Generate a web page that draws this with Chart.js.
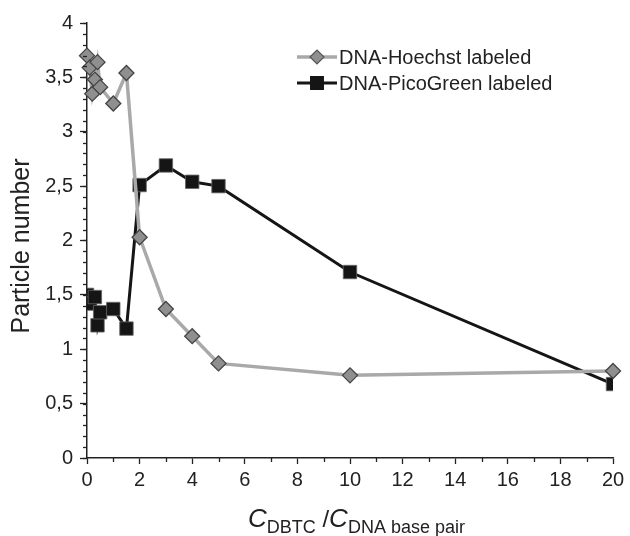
<!DOCTYPE html>
<html>
<head>
<meta charset="utf-8">
<script src="https://cdn.jsdelivr.net/npm/chart.js@4.4.1/dist/chart.umd.min.js"></script>
<style>
  html, body { margin: 0; padding: 0; background: #fff; }
  #wrap { width: 630px; height: 536px; position: relative; }
</style>
</head>
<body>
<div id="wrap"><canvas id="particleChart"></canvas></div>
<script>
// ratio DBTC / DNA base pair
var hoechstX = [0, 0.1, 0.2, 0.3, 0.4, 0.5, 1, 1.5, 2, 3, 4, 5, 10, 20];
var hoechstY = [3.70, 3.59, 3.35, 3.48, 3.64, 3.41, 3.26, 3.54, 2.03, 1.37, 1.12, 0.87, 0.76, 0.80];
var picoX = [0, 0.1, 0.3, 0.4, 0.5, 1, 1.5, 2, 3, 4, 5, 10, 20];
var picoY = [1.50, 1.42, 1.48, 1.22, 1.34, 1.37, 1.19, 2.51, 2.69, 2.54, 2.50, 1.71, 0.68];
var seriesNames = ["DNA-Hoechst labeled", "DNA-PicoGreen labeled"];
var xTicks = [0, 2, 4, 6, 8, 10, 12, 14, 16, 18, 20];
var yTicks = [0, 0.5, 1, 1.5, 2, 2.5, 3, 3.5, 4];
var yTitle = "Particle number";

var FONT = "'Liberation Sans', Arial, sans-serif";
var grayLine = "#a9a9a9", grayFill = "#8f8f8f", dark = "#151515";

function pts(xs, ys) {
  return xs.map(function (x, i) { return {x: x, y: ys[i]}; });
}

// minor ticks, legend with line samples, axis titles
var extras = {
  id: "extras",
  afterDraw: function (chart) {
    var ctx = chart.ctx, xs = chart.scales.x, ys = chart.scales.y;
    var area = chart.chartArea;
    ctx.save();
    ctx.strokeStyle = "#222";
    ctx.lineWidth = 1.3;
    for (var v = 0; v <= 4.0001; v += 0.1) {
      var py = Math.round(ys.getPixelForValue(v)) + 0.5;
      ctx.beginPath(); ctx.moveTo(area.left - 4, py); ctx.lineTo(area.left, py); ctx.stroke();
    }
    for (var k = 1; k < 20; k += 2) {
      var px = Math.round(xs.getPixelForValue(k)) + 0.5;
      ctx.beginPath(); ctx.moveTo(px, area.bottom); ctx.lineTo(px, area.bottom + 4); ctx.stroke();
    }

    // legend
    var rows = [
      {y: 57, color: grayLine, width: 3.5, style: "rectRot", r: 7, fill: grayFill, border: "#555"},
      {y: 83, color: dark, width: 3, style: "rect", r: 9, fill: dark, border: dark}
    ];
    rows.forEach(function (row, i) {
      ctx.strokeStyle = row.color;
      ctx.lineWidth = row.width;
      ctx.beginPath(); ctx.moveTo(297, row.y); ctx.lineTo(337, row.y); ctx.stroke();
      ctx.fillStyle = row.fill;
      ctx.strokeStyle = row.border;
      ctx.lineWidth = 1.2;
      Chart.helpers.drawPoint(ctx, {pointStyle: row.style, radius: row.r, borderWidth: 1.2}, 317, row.y);
      ctx.fillStyle = "#222";
      ctx.font = "20px " + FONT;
      ctx.textBaseline = "middle";
      ctx.textAlign = "left";
      ctx.fillText(seriesNames[i], 339, row.y + 1);
    });

    // y axis title
    ctx.save();
    ctx.translate(22, 246);
    ctx.rotate(-Math.PI / 2);
    ctx.font = "25px " + FONT;
    ctx.textAlign = "center";
    ctx.textBaseline = "middle";
    ctx.fillText(yTitle, 0, 0);
    ctx.restore();

    // x axis title: C_DBTC / C_DNA base pair
    ctx.fillStyle = "#222";
    ctx.textAlign = "left";
    ctx.textBaseline = "alphabetic";
    var x = 248;
    var parts = [
      {t: "C", f: "italic 26px ", dy: 0},
      {t: "DBTC", f: "18px ", dy: 6},
      {t: " /", f: "24px ", dy: 0},
      {t: "C", f: "italic 26px ", dy: 0},
      {t: "DNA base pair", f: "18px ", dy: 6}
    ];
    parts.forEach(function (p) {
      ctx.font = p.f + FONT;
      ctx.fillText(p.t, x, 527 + p.dy);
      x += ctx.measureText(p.t).width;
    });
    ctx.restore();
  }
};

var ctx1 = document.getElementById("particleChart").getContext("2d");
new Chart(ctx1, {
  type: "line",
  data: {
    datasets: [{
      label: seriesNames[0],
      data: pts(hoechstX, hoechstY),
      borderColor: grayLine,
      borderWidth: 3.5,
      pointStyle: "rectRot",
      pointRadius: 7.5,
      pointBackgroundColor: grayFill,
      pointBorderColor: "#444",
      pointBorderWidth: 1.3,
      clip: false,
      tension: 0
    }, {
      label: seriesNames[1],
      data: pts(picoX, picoY),
      borderColor: dark,
      borderWidth: 3,
      pointStyle: "rect",
      pointRadius: 9.5,
      pointBackgroundColor: dark,
      pointBorderColor: "#666",
      pointBorderWidth: 0.8,
      tension: 0
    }]
  },
  options: {
    responsive: true,
    maintainAspectRatio: false,
    animation: false,
    layout: {padding: {top: 23, right: 17, left: 0, bottom: 0}},
    plugins: {legend: {display: false}, tooltip: {enabled: false}},
    scales: {
      x: {
        type: "linear", min: 0, max: 20,
        afterFit: function (s) { s.height = 78; },
        afterBuildTicks: function (s) { s.ticks = xTicks.map(function (v) { return {value: v}; }); },
        grid: {drawOnChartArea: false, tickLength: 6, color: "#222", tickWidth: 1.3},
        border: {color: "#222", width: 1.5},
        ticks: {color: "#222", font: {family: FONT, size: 20}, padding: 4, maxRotation: 0}
      },
      y: {
        min: 0, max: 4,
        afterFit: function (s) { s.width = 87; },
        afterBuildTicks: function (s) { s.ticks = yTicks.map(function (v) { return {value: v}; }); },
        grid: {drawOnChartArea: false, tickLength: 7, color: "#222", tickWidth: 1.3},
        border: {color: "#222", width: 1.5},
        ticks: {
          color: "#222", font: {family: FONT, size: 20}, padding: 7,
          callback: function (v) { return String(v).replace(".", ","); }
        }
      }
    }
  },
  plugins: [extras]
});
</script>
</body>
</html>
